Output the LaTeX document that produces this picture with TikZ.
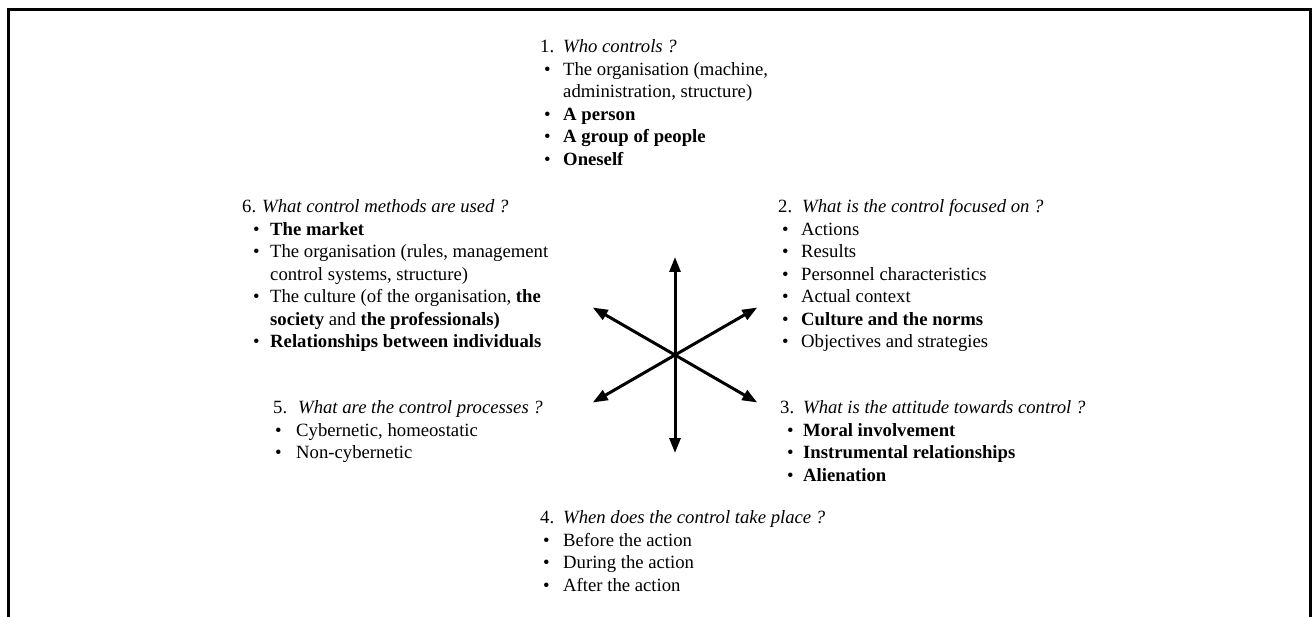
\documentclass[tikz,border=0pt]{standalone}
\usepackage{fontspec}
\setmainfont{Liberation Serif}
\usetikzlibrary{arrows.meta}

% heading row and bullet cells of a question block
\newcommand{\qhead}[3]{\multicolumn{2}{@{}l@{}}{\makebox[#1][l]{#2}\textit{#3}}}
\newcommand{\bul}[1][4pt]{\makebox[23pt][l]{\hspace{#1}\textbullet}}
\newcommand{\bulwide}{\makebox[28pt][l]{\hspace{11pt}\textbullet}}

\tikzset{
  question/.style={anchor=north west, inner sep=0pt, font=\fontsize{18.7}{22.5}\selectfont},
  spoke/.style={{Triangle[length=15pt,width=11pt]}-{Triangle[length=15pt,width=11pt]}, line width=3pt},
  frame/.style={line width=3pt}
}

\begin{document}
\begin{tikzpicture}[x=1pt,y=-1pt]
  \useasboundingbox (0,0) rectangle (1313,617);
  \draw[frame] (8.5,617) -- (8.5,9.5) -- (1310.8,9.5) -- (1310.8,617);

  % the six questions
  \node[question] (who) at (540,37) {\begin{tabular}{@{}l@{}l@{}}
    \qhead{23pt}{1.}{Who controls ?}\\
    \bul & The organisation (machine,\\
         & administration, structure)\\
    \bul & \textbf{A person}\\
    \bul & \textbf{A group of people}\\
    \bul & \textbf{Oneself}
  \end{tabular}};

  \node[question] (focus) at (778,197) {\begin{tabular}{@{}l@{}l@{}}
    \qhead{24pt}{2.}{What is the control focused on ?}\\
    \bul & Actions\\
    \bul & Results\\
    \bul & Personnel characteristics\\
    \bul & Actual context\\
    \bul & \textbf{Culture and the norms}\\
    \bul & Objectives and strategies
  \end{tabular}};

  \node[question] (attitude) at (780,398) {\begin{tabular}{@{}l@{}l@{}}
    \qhead{23pt}{3.}{What is the attitude towards control ?}\\
    \bul[7pt] & \textbf{Moral involvement}\\
    \bul[7pt] & \textbf{Instrumental relationships}\\
    \bul[7pt] & \textbf{Alienation}
  \end{tabular}};

  \node[question] (when) at (540,508) {\begin{tabular}{@{}l@{}l@{}}
    \qhead{23pt}{4.}{When does the control take place ?}\\
    \bul[3pt] & Before the action\\
    \bul[3pt] & During the action\\
    \bul[3pt] & After the action
  \end{tabular}};

  \node[question] (process) at (273,398) {\begin{tabular}{@{}l@{}l@{}}
    \qhead{25pt}{5.}{What are the control processes ?}\\
    \bul[2pt] & Cybernetic, homeostatic\\
    \bul[2pt] & Non-cybernetic
  \end{tabular}};

  \node[question] (methods) at (242,197) {\begin{tabular}{@{}l@{}l@{}}
    \qhead{20pt}{6.}{What control methods are used ?}\\
    \bulwide & \textbf{The market}\\
    \bulwide & The organisation (rules, management\\
             & control systems, structure)\\
    \bulwide & The culture (of the organisation, \textbf{the}\\
             & \textbf{society} and \textbf{the professionals)}\\
    \bulwide & \textbf{Relationships between individuals}
  \end{tabular}};

  % star of double arrows
  \coordinate (hub) at (675,355);
  \foreach \ang/\len in {90/98,270/98,30/95,210/95,150/95,330/95}
    \coordinate (tip\ang) at ([shift={(\ang:\len)}]hub);
  \foreach \from/\to in {90/270,30/210,150/330}
    \draw[spoke] (tip\from) -- (tip\to);
\end{tikzpicture}
\end{document}
